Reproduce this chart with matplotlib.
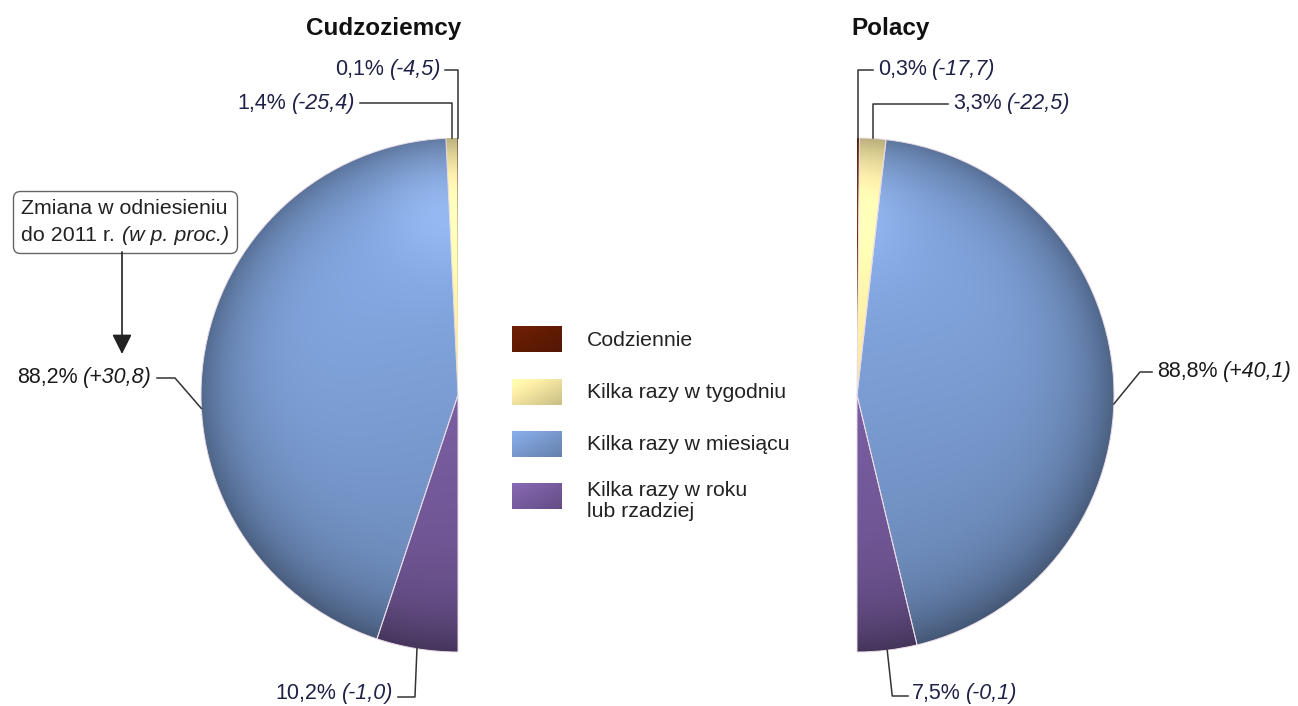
import numpy as np
import matplotlib
matplotlib.use("Agg")
import matplotlib.pyplot as plt
from matplotlib.patches import Wedge
from matplotlib.colors import to_rgb
from matplotlib.offsetbox import TextArea, HPacker, VPacker, AnnotationBbox

plt.rcParams['font.family'] = ['Liberation Sans', 'DejaVu Sans']

# data
categories = ['Codziennie', 'Kilka razy w tygodniu', 'Kilka razy w miesiącu',
              'Kilka razy w roku\nlub rzadziej']
colors = ['#641c04', '#f6e7a2', '#7b9dd3', '#7a5ea2']
foreigners = [0.1, 1.4, 88.2, 10.2]
foreigners_change = ['(-4,5)', '(-25,4)', '(+30,8)', '(-1,0)']
poles = [0.3, 3.3, 88.8, 7.5]
poles_change = ['(-17,7)', '(-22,5)', '(+40,1)', '(-0,1)']
titles = ['Cudzoziemcy', 'Polacy']

W, H = 1298, 706
fig = plt.figure(figsize=(W / 100, H / 100), dpi=100)
ax = fig.add_axes([0, 0, 1, 1])
ax.axis('off')

NAVY = '#1f2147'
DARK = '#1a1a1a'
LFS = 15.5


def fmt(v):
    return ('%.1f%%' % v).replace('.', ',')


def shaded(base, n=300):
    u, v = np.meshgrid(np.linspace(-1, 1, n), np.linspace(-1, 1, n))
    r = np.clip(np.hypot(u, v), 0, 1)
    light = 1 + 0.14 * v - 0.03 * u
    rim = 1 - 0.35 * r ** 6
    rgb = np.array(to_rgb(base))[None, None, :] * (light * rim)[..., None]
    hl = 0.08 * np.exp(-((u + 0.05) ** 2 + (v - 0.75) ** 2) / 0.06)
    rgb = rgb + hl[..., None]
    return np.clip(rgb, 0, 1)


def half_pie(cx, cy, R, values, side):
    total = sum(values)
    ang = 90.0
    wedges = []
    for val, col in zip(values, colors):
        span = val / total * 180.0
        if side == 'left':
            t1, t2 = ang, ang + span
            ang += span
        else:
            t1, t2 = ang - span, ang
            ang -= span
        edge = '#eadbe6' if span > 3 else 'none'
        w = Wedge((cx, cy), R, t1, t2, facecolor='none', edgecolor=edge, lw=0.7, zorder=3)
        ax.add_patch(w)
        im = ax.imshow(shaded(col), extent=[cx - R, cx + R, cy - R, cy + R],
                       origin='lower', aspect='auto', zorder=2)
        im.set_clip_path(w)
        wedges.append((t1, t2))
    return wedges


def label(x, y, pct, change, color, ha):
    t1 = TextArea(pct, textprops=dict(fontsize=LFS, color=color))
    t2 = TextArea(change, textprops=dict(fontsize=LFS, color=color, style='italic'))
    box = HPacker(children=[t1, t2], align='baseline', pad=0, sep=4)
    ab = AnnotationBbox(box, (x, y), xycoords='data', frameon=False, pad=0,
                        box_alignment=(0 if ha == 'left' else 1, 0.5))
    ax.add_artist(ab)


def on_circle(cx, cy, R, a):
    return cx + R * np.cos(np.radians(a)), cy + R * np.sin(np.radians(a))


R = 257
lcx, lcy = 458, H - 395
rcx, rcy = 857, H - 395

lw_ = half_pie(lcx, lcy, R, foreigners, 'left')
rw_ = half_pie(rcx, rcy, R, poles, 'right')

line_kw = dict(color='#333333', lw=1.1, zorder=4)

# left pie labels
x0, y0 = on_circle(lcx, lcy, R, np.mean(lw_[0]))
ax.plot([445, x0, x0], [H - 70, H - 70, y0], **line_kw)
label(441, H - 70, fmt(foreigners[0]), foreigners_change[0], NAVY, 'right')
x1, y1 = on_circle(lcx, lcy, R, np.mean(lw_[1]))
ax.plot([360, x1, x1], [H - 103, H - 103, y1], **line_kw)
label(355, H - 103, fmt(foreigners[1]), foreigners_change[1], NAVY, 'right')
x2, y2 = on_circle(lcx, lcy, R, 183)
ax.plot([157, 175, x2], [H - 378, H - 378, y2], **line_kw)
label(152, H - 378, fmt(foreigners[2]), foreigners_change[2], DARK, 'right')
x3, y3 = on_circle(lcx, lcy, R, np.mean(lw_[3]))
ax.plot([x3, x3 - 2, 398], [y3, H - 697, H - 697], **line_kw)
label(393, H - 694, fmt(foreigners[3]), foreigners_change[3], NAVY, 'right')

# right pie labels
x0, y0 = on_circle(rcx, rcy, R, np.mean(rw_[0]))
ax.plot([x0, x0, 873], [y0, H - 70, H - 70], **line_kw)
label(878, H - 70, fmt(poles[0]), poles_change[0], NAVY, 'left')
x1, y1 = on_circle(rcx, rcy, R, np.mean(rw_[1]))
ax.plot([x1, x1, 948], [y1, H - 104, H - 104], **line_kw)
label(953, H - 104, fmt(poles[1]), poles_change[1], NAVY, 'left')
x2, y2 = on_circle(rcx, rcy, R, -2)
ax.plot([x2, 1140, 1152], [y2, H - 372, H - 372], **line_kw)
label(1157, H - 372, fmt(poles[2]), poles_change[2], DARK, 'left')
x3, y3 = on_circle(rcx, rcy, R, np.mean(rw_[3]))
ax.plot([x3, x3 + 5, 908], [y3, H - 696, H - 696], **line_kw)
label(912, H - 694, fmt(poles[3]), poles_change[3], NAVY, 'left')

# titles
ax.text(384, H - 28, titles[0], fontsize=17.5, fontweight='bold', ha='center', va='center', color='#111')
ax.text(891, H - 28, titles[1], fontsize=17.5, fontweight='bold', ha='center', va='center', color='#111')

# note box with arrow
NFS = 15.4
l1 = TextArea('Zmiana w odniesieniu', textprops=dict(fontsize=NFS, color='#222'))
l2 = HPacker(children=[TextArea('do 2011 r.', textprops=dict(fontsize=NFS, color='#222')),
                       TextArea('(w p. proc.)', textprops=dict(fontsize=NFS, color='#222', style='italic'))],
             align='baseline', pad=0, sep=5)
note = VPacker(children=[l1, l2], align='left', pad=0, sep=6)
ab = AnnotationBbox(note, (125, H - 222), xycoords='data', box_alignment=(0.5, 0.5),
                    bboxprops=dict(boxstyle='round,pad=0.55,rounding_size=0.5', ec='#666666', fc='white', lw=1))
ax.add_artist(ab)
ax.annotate('', xy=(122, H - 354), xytext=(122, H - 252),
            arrowprops=dict(arrowstyle='-|>,head_length=0.6,head_width=0.3', color='#222', lw=1.2,
                            mutation_scale=20, shrinkA=0, shrinkB=0))

# legend
sw_y = [339, 392, 444, 496]
txt_y = [340, 393, 445, 501]
for col, name, sy, ty in zip(colors, categories, sw_y, txt_y):
    n = 60
    u, v = np.meshgrid(np.linspace(0, 1, n), np.linspace(0, 1, n))
    t = (u + (1 - v)) / 2
    g = np.array(to_rgb(col))[None, None, :] * (1.12 - 0.3 * t)[..., None]
    ax.imshow(np.clip(g, 0, 1), extent=[512, 562, H - sy - 13, H - sy + 13], origin='lower',
              aspect='auto', zorder=2)
    ax.text(587, H - ty, name, fontsize=15.3, color='#222', ha='left', va='center', linespacing=1.15)

ax.set_xlim(0, W)
ax.set_ylim(0, H)
fig.savefig('out.png', dpi=100)
